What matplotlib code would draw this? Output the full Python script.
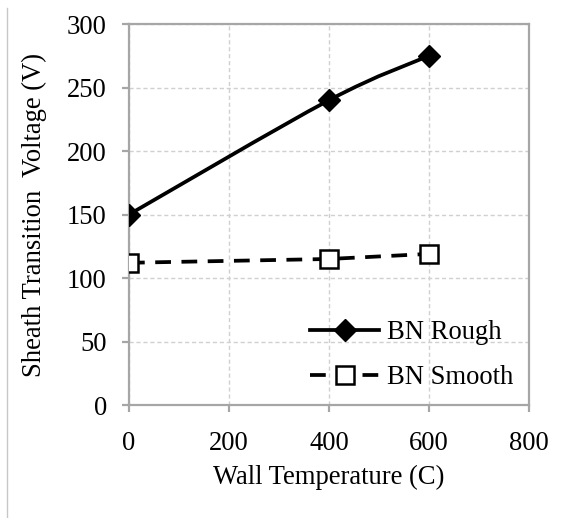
import matplotlib
matplotlib.use('Agg')
import matplotlib.pyplot as plt
from matplotlib.path import Path
from matplotlib.patches import PathPatch
from matplotlib.lines import Line2D

# data
temps = [0, 400, 600]
rough = [150, 240, 275]
smooth = [112, 115, 119]
labels = ['BN Rough', 'BN Smooth']

plt.rcParams['font.family'] = ['Liberation Serif', 'DejaVu Serif']
plt.rcParams['font.size'] = 19.2

fig = plt.figure(figsize=(5.62, 5.18), dpi=100)
ax = fig.add_axes([0.2295, 0.2181, 0.7117, 0.7355])

# Excel-style smoothed line: cubic bezier through the points
pts = list(zip(temps, rough))
verts = [pts[0]]
codes = [Path.MOVETO]
for i in range(len(pts) - 1):
    p0 = pts[max(i - 1, 0)]
    p1 = pts[i]
    p2 = pts[i + 1]
    p3 = pts[min(i + 2, len(pts) - 1)]
    c1 = (p1[0] + (p2[0] - p0[0]) / 6, p1[1] + (p2[1] - p0[1]) / 6)
    c2 = (p2[0] - (p3[0] - p1[0]) / 6, p2[1] - (p3[1] - p1[1]) / 6)
    verts += [c1, c2, p2]
    codes += [Path.CURVE4] * 3
lw = 2.7
ax.add_patch(PathPatch(Path(verts, codes), facecolor='none', edgecolor='black',
                       lw=lw, zorder=3))
ax.plot(temps, rough, linestyle='none', marker='D', ms=11.5, color='black', zorder=4)

dash = (0, (4.2, 2.8))
ax.plot(temps, smooth, color='black', lw=lw, linestyle=dash,
        marker='s', ms=12.5, mfc='white', mec='black', mew=1.8, zorder=4)

ax.set_xlim(0, 800)
ax.set_ylim(0, 300)
ax.set_xticks(range(0, 801, 200))
ax.set_yticks(range(0, 301, 50))

ax.grid(True, color='#d0d0d0', linestyle=(0, (3, 2)), lw=1)
ax.set_axisbelow(True)
for s in ax.spines.values():
    s.set_color('#a6a6a6')
    s.set_linewidth(1.6)
ax.tick_params(direction='out', length=5, width=1.6, color='#a6a6a6')
ax.tick_params(axis='x', pad=14)
ax.tick_params(axis='y', pad=11)

ax.set_xlabel('Wall Temperature (C)', labelpad=6)
ax.set_ylabel('Sheath Transition  Voltage (V)', labelpad=14)

h1 = Line2D([], [], color='black', lw=lw, marker='D', ms=11.5)
h2 = Line2D([], [], color='black', lw=lw, linestyle=dash,
            marker='s', ms=12.5, mfc='white', mec='black', mew=1.8)
ax.legend([h1, h2], labels, loc='upper left', bbox_to_anchor=(0.4525, 0.222),
          frameon=False, borderpad=0, borderaxespad=0, handlelength=2.6,
          handletextpad=0.27, labelspacing=0.75)

fig.add_artist(Line2D([0.0125, 0.0125], [0, 0.985], color='#c8c8c8', lw=1))

fig.savefig('out.png', dpi=100)
